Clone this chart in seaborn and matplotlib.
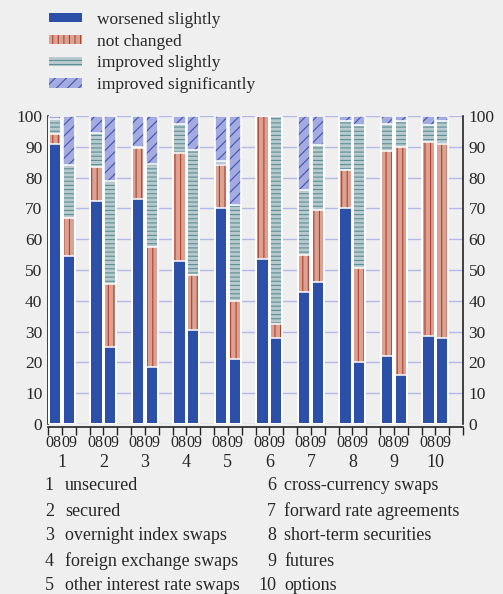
import numpy as np
import pandas as pd
import matplotlib
matplotlib.use("Agg")
import matplotlib.pyplot as plt
import matplotlib.patches as mpatches
from matplotlib.ticker import FixedLocator
import seaborn as sns

# categories (numbered 1..10 on the x axis)
categories = ["unsecured", "secured", "overnight index swaps", "foreign exchange swaps",
              "other interest rate swaps", "cross-currency swaps", "forward rate agreements",
              "short-term securities", "futures", "options"]
years = ["08", "09"]

# shares (%) per category, 2008 and 2009
worsened_08 = [91, 72.5, 73, 53, 70, 53.5, 43, 70, 22, 28.5]
worsened_09 = [54.5, 25, 18.5, 30.5, 21, 28, 46, 20, 16, 28]
not_changed_08 = [3, 11, 16.5, 35, 14, 46.5, 12, 12.5, 66.5, 63]
not_changed_09 = [12.5, 20.5, 39, 18, 19, 4.5, 23.5, 30.5, 74, 63]
improved_08 = [5, 11, 0.5, 9.5, 1.5, 0, 21, 16, 9, 5.5]
improved_09 = [17, 33.5, 27, 40.5, 31, 67.5, 21, 46.5, 8.5, 7.5]
improved_sig_08 = [1, 5.5, 10, 2.5, 14.5, 0, 24, 1.5, 2.5, 3]
improved_sig_09 = [16, 21, 15.5, 11, 29, 0, 9.5, 3, 1.5, 1.5]

series_names = ["worsened slightly", "not changed", "improved slightly", "improved significantly"]
fills = ["#2c4fa8", "#d9a292", "#b8cacd", "#a4abdf"]
hatch_cols = ["#2c4fa8", "#b5402f", "#5b8f98", "#3f52b8"]
hatches = [None, "|||", "----", "///"]

# long table: one row per bar, cumulative heights for stacking
rows = []
for i in range(len(categories)):
    for y, w, n, s, g in [("08", worsened_08, not_changed_08, improved_08, improved_sig_08),
                          ("09", worsened_09, not_changed_09, improved_09, improved_sig_09)]:
        rows.append({"slot": f"{i+1}-{y}", "worsened slightly": w[i], "not changed": n[i],
                     "improved slightly": s[i], "improved significantly": g[i]})
df = pd.DataFrame(rows)
cum = df[series_names].cumsum(axis=1)
cum["slot"] = df["slot"]

order = []
for i in range(len(categories)):
    order += [f"{i+1}-08", f"{i+1}-09", f"{i+1}-gap"]

sns.set_theme(style="ticks")
bg = "#efefef"
plt.rcParams["font.family"] = ["Liberation Serif", "DejaVu Serif"]
plt.rcParams["hatch.linewidth"] = 0.8
plt.rcParams["axes.facecolor"] = bg
plt.rcParams["figure.facecolor"] = bg

fig = plt.figure(figsize=(5.03, 5.94), dpi=100)
ax = fig.add_axes([48 / 503, 1 - 424 / 594, 415 / 503, 308 / 594])

for k in [3, 2, 1, 0]:
    sns.barplot(data=cum, x="slot", y=series_names[k], order=order, errorbar=None,
                color=fills[k], saturation=1, width=0.9, linewidth=0,
                edgecolor=hatch_cols[k], hatch=hatches[k], ax=ax, zorder=2)
for k in [3, 2, 1, 0]:
    sns.barplot(data=cum, x="slot", y=series_names[k], order=order, errorbar=None,
                color="white", fill=False, width=0.9, linewidth=1.1, ax=ax, zorder=3)

ax.set_ylim(0, 100)
ax.set_xlim(-0.5, len(order) - 0.5)
ax.set_yticks(range(0, 101, 10))
ax.yaxis.grid(True, color="#b3b8ea", linewidth=1, zorder=0)
ax.set_axisbelow(True)
ax.set_xlabel("")
ax.set_ylabel("")
ax.tick_params(axis="y", length=0, labelsize=12.5, pad=4, labelright=True, right=False)

# x axis: small ticks at slot edges, year and category labels as text
ax.set_xticks([])
ax.xaxis.set_minor_locator(FixedLocator(np.arange(-0.5, len(order) - 0.4, 1)))
ax.tick_params(axis="x", which="minor", length=6, width=1, color="#222222", direction="out")
xt = ax.get_xaxis_transform()
for i in range(len(categories)):
    ax.text(3 * i + 0.5, -0.061, years[0], transform=xt, ha="right", va="center", fontsize=11.5)
    ax.text(3 * i + 0.5, -0.061, years[1], transform=xt, ha="left", va="center", fontsize=11.5)
    ax.text(3 * i + 0.5, -0.124, str(i + 1), transform=xt, ha="center", va="center", fontsize=13)

ax.spines["top"].set_visible(False)
ax.spines["bottom"].set_position(("outward", 2))
for sp in ["left", "right", "bottom"]:
    ax.spines[sp].set_color("#222222")
    ax.spines[sp].set_linewidth(1.2)

handles = [mpatches.Patch(facecolor=fills[k], edgecolor=hatch_cols[k], hatch=hatches[k],
                          linewidth=0, label=series_names[k]) for k in range(4)]
fig.legend(handles=handles, loc="upper left", bbox_to_anchor=(42 / 503, 1 - 5 / 594),
           frameon=False, fontsize=12.5, handlelength=1.9, handleheight=0.45,
           handletextpad=0.85, labelspacing=0.33, borderaxespad=0)

row_y = [486, 511, 536, 561, 585]
for i, name in enumerate(categories):
    col = i // 5
    y = 1 - row_y[i % 5] / 594
    xn = 54 / 503 if col == 0 else 276 / 503
    xt_ = 65 / 503 if col == 0 else 284 / 503
    fig.text(xn, y, str(i + 1), ha="right", va="center", fontsize=13)
    fig.text(xt_, y, name, ha="left", va="center", fontsize=13)

plt.savefig("out.png", dpi=100, facecolor=bg)
